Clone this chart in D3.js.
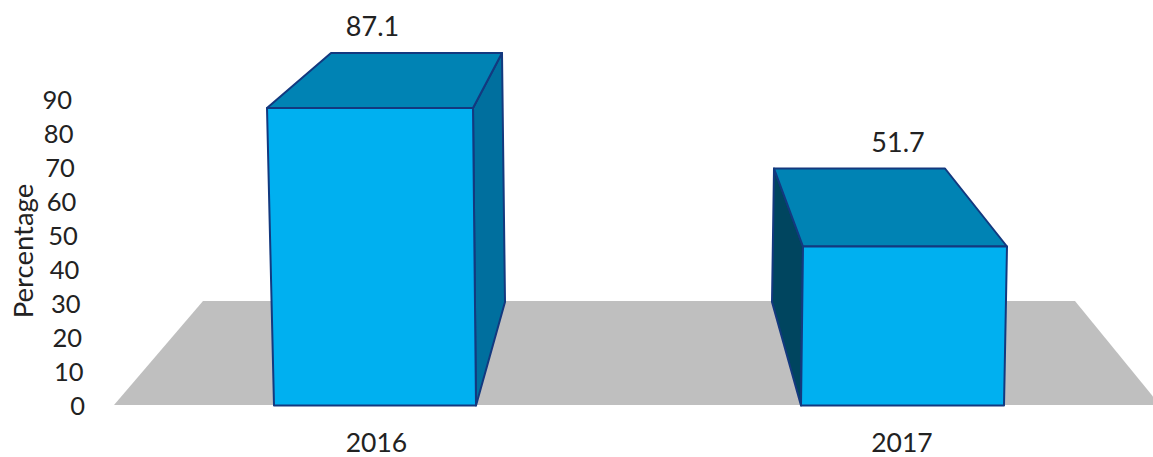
<!DOCTYPE html>
<html><head><meta charset="utf-8">
<script src="https://cdnjs.cloudflare.com/ajax/libs/d3/7.8.5/d3.min.js"></script>
<style>html,body{margin:0;padding:0;background:#fff;overflow:hidden}svg{display:block}text{font-family:Lato,sans-serif;fill:#222}</style>
</head><body><svg id="c" width="1153" height="457"></svg>
<script>
const years = [2016, 2017];
const values = [87.1, 51.7];
const yTicks = [0,10,20,30,40,50,60,70,80,90];
const yTitle = "Percentage";

const svg = d3.select("#c");
const axisY = d3.scaleLinear([0,90],[406,100]);
const lean = d3.scaleLinear([0,90],[85,72]);
// perspective-warped chart: each box corner has its own scale
const frontTopY = d3.scaleLinear([0,51.7,87.1],[405,246.5,108]);
const backTopY  = d3.scaleLinear([0,51.7,87.1],[302,168.5,53]);
const baseY = 405.5, backBaseY = 302;
const xs = (a,b)=>d3.scaleLinear([2016,2017],[a,b]);
const fbl=xs(274,801), fbr=xs(476,1004), ftl=xs(267,803), ftr=xs(473,1007);
const btl=xs(331,774), btr=xs(502,945), bbl=xs(332,772), bbr=xs(505,945);
const labelX = xs(376.5,902), valX = xs(372.5,898);

const line = pts => "M"+pts.map(p=>p.join(",")).join("L")+"Z";

// floor
svg.append("path").attr("d",line([[114,405],[203,301],[1075,301],[1160,405]])).attr("fill","#BFBFBF");

const rows = years.map((y,i)=>({y,v:values[i]}));
const stroke="#13397F", sw=2;
const g = svg.selectAll("g.bar").data(rows).join("g").attr("class","bar")
  .attr("stroke",stroke).attr("stroke-width",sw).attr("stroke-linejoin","round");

// visible side wall: right wall for the left bar, left wall for the right bar
g.filter(d=>d.y===2016).append("path").attr("fill","#006F9E")
  .attr("d",d=>line([[ftr(d.y),frontTopY(d.v)],[btr(d.y),backTopY(d.v)],[bbr(d.y),backBaseY],[fbr(d.y),baseY]]));
g.filter(d=>d.y===2017).append("path").attr("fill","#00455F")
  .attr("d",d=>line([[ftl(d.y),frontTopY(d.v)],[btl(d.y),backTopY(d.v)],[bbl(d.y),backBaseY],[fbl(d.y),baseY]]));
// top
g.append("path").attr("fill","#0083B4")
  .attr("d",d=>line([[ftl(d.y),frontTopY(d.v)],[btl(d.y),backTopY(d.v)],[btr(d.y),backTopY(d.v)],[ftr(d.y),frontTopY(d.v)]]));
// front
g.append("path").attr("fill","#00B0F0")
  .attr("d",d=>line([[ftl(d.y),frontTopY(d.v)],[ftr(d.y),frontTopY(d.v)],[fbr(d.y),baseY],[fbl(d.y),baseY]]));

// value labels
svg.selectAll("text.val").data(rows).join("text").attr("class","val")
  .attr("x",d=>valX(d.y)).attr("y",d=>backTopY(d.v)-17).attr("text-anchor","middle")
  .attr("font-size",27).text(d=>d.v);
// category labels
svg.selectAll("text.cat").data(rows).join("text").attr("class","cat")
  .attr("x",d=>labelX(d.y)).attr("y",451.5).attr("text-anchor","middle")
  .attr("font-size",26.5).text(d=>d.y);

// y axis
const ax = svg.append("g").call(d3.axisLeft(axisY).tickValues(yTicks).tickSize(0).tickPadding(0));
ax.select(".domain").remove();
ax.attr("font-family",null).attr("font-size",null);
ax.selectAll(".tick").attr("transform",d=>`translate(${lean(d)},${axisY(d)})`);
ax.selectAll("text").attr("font-size",25.5).attr("dy","0.35em");

svg.append("text").attr("transform","translate(33,251) rotate(-90)")
  .attr("text-anchor","middle").attr("font-size",27.5).text(yTitle);
</script></body></html>
